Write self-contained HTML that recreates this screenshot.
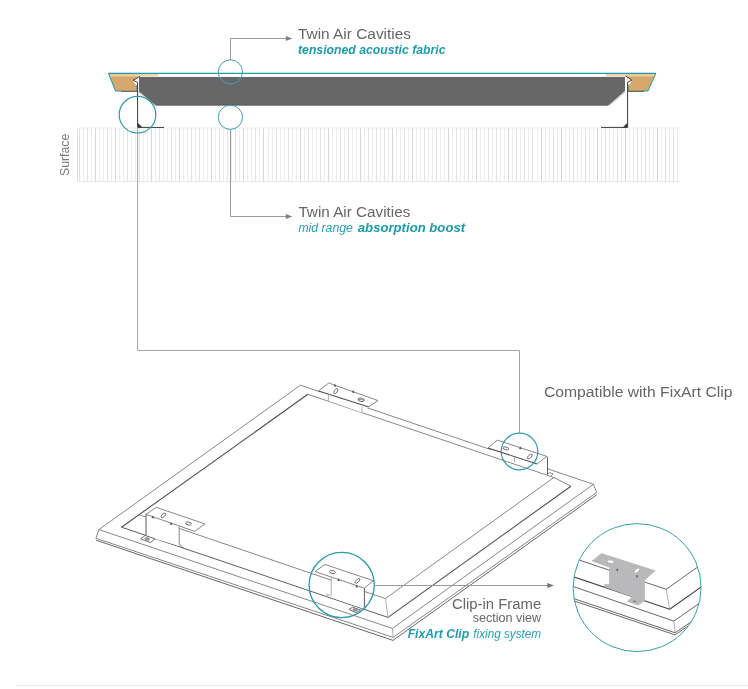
<!DOCTYPE html>
<html><head><meta charset="utf-8"><style>
html,body{margin:0;padding:0;background:#fff;overflow:hidden;width:748px;height:689px;}
svg{display:block;font-family:"Liberation Sans",sans-serif;will-change:transform;}
</style></head><body>
<svg width="748" height="689" viewBox="0 0 748 689">
<g><line x1="77.5" y1="128" x2="77.5" y2="181.5" stroke="#dedede" stroke-width="1"/><line x1="79.5" y1="128" x2="79.5" y2="181.5" stroke="#e2e2e2" stroke-width="1"/><line x1="83.5" y1="128" x2="83.5" y2="181.5" stroke="#eeeeee" stroke-width="1"/><line x1="87.5" y1="128" x2="87.5" y2="181.5" stroke="#e2e2e2" stroke-width="1"/><line x1="91.5" y1="128" x2="91.5" y2="181.5" stroke="#eeeeee" stroke-width="1"/><line x1="95.5" y1="128" x2="95.5" y2="181.5" stroke="#d5d5d5" stroke-width="1"/><line x1="99.5" y1="128" x2="99.5" y2="181.5" stroke="#eeeeee" stroke-width="1"/><line x1="103.5" y1="128" x2="103.5" y2="181.5" stroke="#eeeeee" stroke-width="1"/><line x1="107.5" y1="128" x2="107.5" y2="181.5" stroke="#e2e2e2" stroke-width="1"/><line x1="111.5" y1="128" x2="111.5" y2="181.5" stroke="#eeeeee" stroke-width="1"/><line x1="115.5" y1="128" x2="115.5" y2="181.5" stroke="#d5d5d5" stroke-width="1"/><line x1="119.5" y1="128" x2="119.5" y2="181.5" stroke="#eeeeee" stroke-width="1"/><line x1="123.5" y1="128" x2="123.5" y2="181.5" stroke="#eeeeee" stroke-width="1"/><line x1="127.5" y1="128" x2="127.5" y2="181.5" stroke="#e2e2e2" stroke-width="1"/><line x1="131.5" y1="128" x2="131.5" y2="181.5" stroke="#eeeeee" stroke-width="1"/><line x1="135.5" y1="128" x2="135.5" y2="181.5" stroke="#eeeeee" stroke-width="1"/><line x1="139.5" y1="128" x2="139.5" y2="181.5" stroke="#e2e2e2" stroke-width="1"/><line x1="143.5" y1="128" x2="143.5" y2="181.5" stroke="#eeeeee" stroke-width="1"/><line x1="147.5" y1="128" x2="147.5" y2="181.5" stroke="#eeeeee" stroke-width="1"/><line x1="151.5" y1="128" x2="151.5" y2="181.5" stroke="#d5d5d5" stroke-width="1"/><line x1="155.5" y1="128" x2="155.5" y2="181.5" stroke="#eeeeee" stroke-width="1"/><line x1="159.5" y1="128" x2="159.5" y2="181.5" stroke="#e2e2e2" stroke-width="1"/><line x1="163.5" y1="128" x2="163.5" y2="181.5" stroke="#eeeeee" stroke-width="1"/><line x1="167.5" y1="128" x2="167.5" y2="181.5" stroke="#eeeeee" stroke-width="1"/><line x1="171.5" y1="128" x2="171.5" y2="181.5" stroke="#e2e2e2" stroke-width="1"/><line x1="175.5" y1="128" x2="175.5" y2="181.5" stroke="#eeeeee" stroke-width="1"/><line x1="179.5" y1="128" x2="179.5" y2="181.5" stroke="#d5d5d5" stroke-width="1"/><line x1="183.5" y1="128" x2="183.5" y2="181.5" stroke="#eeeeee" stroke-width="1"/><line x1="187.5" y1="128" x2="187.5" y2="181.5" stroke="#eeeeee" stroke-width="1"/><line x1="191.5" y1="128" x2="191.5" y2="181.5" stroke="#e2e2e2" stroke-width="1"/><line x1="195.5" y1="128" x2="195.5" y2="181.5" stroke="#eeeeee" stroke-width="1"/><line x1="199.5" y1="128" x2="199.5" y2="181.5" stroke="#e2e2e2" stroke-width="1"/><line x1="203.5" y1="128" x2="203.5" y2="181.5" stroke="#eeeeee" stroke-width="1"/><line x1="207.5" y1="128" x2="207.5" y2="181.5" stroke="#eeeeee" stroke-width="1"/><line x1="211.5" y1="128" x2="211.5" y2="181.5" stroke="#d5d5d5" stroke-width="1"/><line x1="215.5" y1="128" x2="215.5" y2="181.5" stroke="#eeeeee" stroke-width="1"/><line x1="219.5" y1="128" x2="219.5" y2="181.5" stroke="#e2e2e2" stroke-width="1"/><line x1="223.5" y1="128" x2="223.5" y2="181.5" stroke="#eeeeee" stroke-width="1"/><line x1="227.5" y1="128" x2="227.5" y2="181.5" stroke="#e2e2e2" stroke-width="1"/><line x1="231.5" y1="128" x2="231.5" y2="181.5" stroke="#eeeeee" stroke-width="1"/><line x1="235.5" y1="128" x2="235.5" y2="181.5" stroke="#e2e2e2" stroke-width="1"/><line x1="239.5" y1="128" x2="239.5" y2="181.5" stroke="#eeeeee" stroke-width="1"/><line x1="243.5" y1="128" x2="243.5" y2="181.5" stroke="#d5d5d5" stroke-width="1"/><line x1="247.5" y1="128" x2="247.5" y2="181.5" stroke="#eeeeee" stroke-width="1"/><line x1="251.5" y1="128" x2="251.5" y2="181.5" stroke="#eeeeee" stroke-width="1"/><line x1="255.5" y1="128" x2="255.5" y2="181.5" stroke="#e2e2e2" stroke-width="1"/><line x1="259.5" y1="128" x2="259.5" y2="181.5" stroke="#eeeeee" stroke-width="1"/><line x1="263.5" y1="128" x2="263.5" y2="181.5" stroke="#d5d5d5" stroke-width="1"/><line x1="268.5" y1="128" x2="268.5" y2="181.5" stroke="#eeeeee" stroke-width="1"/><line x1="272.5" y1="128" x2="272.5" y2="181.5" stroke="#eeeeee" stroke-width="1"/><line x1="276.5" y1="128" x2="276.5" y2="181.5" stroke="#e2e2e2" stroke-width="1"/><line x1="280.5" y1="128" x2="280.5" y2="181.5" stroke="#eeeeee" stroke-width="1"/><line x1="284.5" y1="128" x2="284.5" y2="181.5" stroke="#eeeeee" stroke-width="1"/><line x1="288.5" y1="128" x2="288.5" y2="181.5" stroke="#e2e2e2" stroke-width="1"/><line x1="292.5" y1="128" x2="292.5" y2="181.5" stroke="#eeeeee" stroke-width="1"/><line x1="296.5" y1="128" x2="296.5" y2="181.5" stroke="#eeeeee" stroke-width="1"/><line x1="300.5" y1="128" x2="300.5" y2="181.5" stroke="#d5d5d5" stroke-width="1"/><line x1="304.5" y1="128" x2="304.5" y2="181.5" stroke="#eeeeee" stroke-width="1"/><line x1="308.5" y1="128" x2="308.5" y2="181.5" stroke="#e2e2e2" stroke-width="1"/><line x1="312.5" y1="128" x2="312.5" y2="181.5" stroke="#eeeeee" stroke-width="1"/><line x1="316.5" y1="128" x2="316.5" y2="181.5" stroke="#eeeeee" stroke-width="1"/><line x1="320.5" y1="128" x2="320.5" y2="181.5" stroke="#e2e2e2" stroke-width="1"/><line x1="324.5" y1="128" x2="324.5" y2="181.5" stroke="#eeeeee" stroke-width="1"/><line x1="328.5" y1="128" x2="328.5" y2="181.5" stroke="#d5d5d5" stroke-width="1"/><line x1="332.5" y1="128" x2="332.5" y2="181.5" stroke="#eeeeee" stroke-width="1"/><line x1="336.5" y1="128" x2="336.5" y2="181.5" stroke="#eeeeee" stroke-width="1"/><line x1="340.5" y1="128" x2="340.5" y2="181.5" stroke="#e2e2e2" stroke-width="1"/><line x1="344.5" y1="128" x2="344.5" y2="181.5" stroke="#eeeeee" stroke-width="1"/><line x1="348.5" y1="128" x2="348.5" y2="181.5" stroke="#e2e2e2" stroke-width="1"/><line x1="352.5" y1="128" x2="352.5" y2="181.5" stroke="#eeeeee" stroke-width="1"/><line x1="356.5" y1="128" x2="356.5" y2="181.5" stroke="#eeeeee" stroke-width="1"/><line x1="360.5" y1="128" x2="360.5" y2="181.5" stroke="#d5d5d5" stroke-width="1"/><line x1="364.5" y1="128" x2="364.5" y2="181.5" stroke="#eeeeee" stroke-width="1"/><line x1="368.5" y1="128" x2="368.5" y2="181.5" stroke="#e2e2e2" stroke-width="1"/><line x1="372.5" y1="128" x2="372.5" y2="181.5" stroke="#eeeeee" stroke-width="1"/><line x1="376.5" y1="128" x2="376.5" y2="181.5" stroke="#e2e2e2" stroke-width="1"/><line x1="380.5" y1="128" x2="380.5" y2="181.5" stroke="#eeeeee" stroke-width="1"/><line x1="384.5" y1="128" x2="384.5" y2="181.5" stroke="#e2e2e2" stroke-width="1"/><line x1="388.5" y1="128" x2="388.5" y2="181.5" stroke="#eeeeee" stroke-width="1"/><line x1="392.5" y1="128" x2="392.5" y2="181.5" stroke="#d5d5d5" stroke-width="1"/><line x1="396.5" y1="128" x2="396.5" y2="181.5" stroke="#eeeeee" stroke-width="1"/><line x1="400.5" y1="128" x2="400.5" y2="181.5" stroke="#eeeeee" stroke-width="1"/><line x1="404.5" y1="128" x2="404.5" y2="181.5" stroke="#e2e2e2" stroke-width="1"/><line x1="408.5" y1="128" x2="408.5" y2="181.5" stroke="#eeeeee" stroke-width="1"/><line x1="412.5" y1="128" x2="412.5" y2="181.5" stroke="#d5d5d5" stroke-width="1"/><line x1="416.5" y1="128" x2="416.5" y2="181.5" stroke="#eeeeee" stroke-width="1"/><line x1="420.5" y1="128" x2="420.5" y2="181.5" stroke="#eeeeee" stroke-width="1"/><line x1="424.5" y1="128" x2="424.5" y2="181.5" stroke="#e2e2e2" stroke-width="1"/><line x1="428.5" y1="128" x2="428.5" y2="181.5" stroke="#eeeeee" stroke-width="1"/><line x1="432.5" y1="128" x2="432.5" y2="181.5" stroke="#eeeeee" stroke-width="1"/><line x1="436.5" y1="128" x2="436.5" y2="181.5" stroke="#e2e2e2" stroke-width="1"/><line x1="440.5" y1="128" x2="440.5" y2="181.5" stroke="#eeeeee" stroke-width="1"/><line x1="444.5" y1="128" x2="444.5" y2="181.5" stroke="#eeeeee" stroke-width="1"/><line x1="448.5" y1="128" x2="448.5" y2="181.5" stroke="#d5d5d5" stroke-width="1"/><line x1="452.5" y1="128" x2="452.5" y2="181.5" stroke="#eeeeee" stroke-width="1"/><line x1="456.5" y1="128" x2="456.5" y2="181.5" stroke="#e2e2e2" stroke-width="1"/><line x1="460.5" y1="128" x2="460.5" y2="181.5" stroke="#eeeeee" stroke-width="1"/><line x1="464.5" y1="128" x2="464.5" y2="181.5" stroke="#eeeeee" stroke-width="1"/><line x1="468.5" y1="128" x2="468.5" y2="181.5" stroke="#e2e2e2" stroke-width="1"/><line x1="472.5" y1="128" x2="472.5" y2="181.5" stroke="#eeeeee" stroke-width="1"/><line x1="476.5" y1="128" x2="476.5" y2="181.5" stroke="#d5d5d5" stroke-width="1"/><line x1="480.5" y1="128" x2="480.5" y2="181.5" stroke="#eeeeee" stroke-width="1"/><line x1="484.5" y1="128" x2="484.5" y2="181.5" stroke="#eeeeee" stroke-width="1"/><line x1="488.5" y1="128" x2="488.5" y2="181.5" stroke="#e2e2e2" stroke-width="1"/><line x1="492.5" y1="128" x2="492.5" y2="181.5" stroke="#eeeeee" stroke-width="1"/><line x1="496.5" y1="128" x2="496.5" y2="181.5" stroke="#e2e2e2" stroke-width="1"/><line x1="500.5" y1="128" x2="500.5" y2="181.5" stroke="#eeeeee" stroke-width="1"/><line x1="504.5" y1="128" x2="504.5" y2="181.5" stroke="#eeeeee" stroke-width="1"/><line x1="508.5" y1="128" x2="508.5" y2="181.5" stroke="#d5d5d5" stroke-width="1"/><line x1="512.5" y1="128" x2="512.5" y2="181.5" stroke="#eeeeee" stroke-width="1"/><line x1="516.5" y1="128" x2="516.5" y2="181.5" stroke="#e2e2e2" stroke-width="1"/><line x1="520.5" y1="128" x2="520.5" y2="181.5" stroke="#eeeeee" stroke-width="1"/><line x1="524.5" y1="128" x2="524.5" y2="181.5" stroke="#e2e2e2" stroke-width="1"/><line x1="528.5" y1="128" x2="528.5" y2="181.5" stroke="#eeeeee" stroke-width="1"/><line x1="532.5" y1="128" x2="532.5" y2="181.5" stroke="#e2e2e2" stroke-width="1"/><line x1="537.5" y1="128" x2="537.5" y2="181.5" stroke="#eeeeee" stroke-width="1"/><line x1="541.5" y1="128" x2="541.5" y2="181.5" stroke="#d5d5d5" stroke-width="1"/><line x1="545.5" y1="128" x2="545.5" y2="181.5" stroke="#eeeeee" stroke-width="1"/><line x1="549.5" y1="128" x2="549.5" y2="181.5" stroke="#eeeeee" stroke-width="1"/><line x1="553.5" y1="128" x2="553.5" y2="181.5" stroke="#e2e2e2" stroke-width="1"/><line x1="557.5" y1="128" x2="557.5" y2="181.5" stroke="#eeeeee" stroke-width="1"/><line x1="561.5" y1="128" x2="561.5" y2="181.5" stroke="#d5d5d5" stroke-width="1"/><line x1="565.5" y1="128" x2="565.5" y2="181.5" stroke="#eeeeee" stroke-width="1"/><line x1="569.5" y1="128" x2="569.5" y2="181.5" stroke="#eeeeee" stroke-width="1"/><line x1="573.5" y1="128" x2="573.5" y2="181.5" stroke="#e2e2e2" stroke-width="1"/><line x1="577.5" y1="128" x2="577.5" y2="181.5" stroke="#eeeeee" stroke-width="1"/><line x1="581.5" y1="128" x2="581.5" y2="181.5" stroke="#eeeeee" stroke-width="1"/><line x1="585.5" y1="128" x2="585.5" y2="181.5" stroke="#e2e2e2" stroke-width="1"/><line x1="589.5" y1="128" x2="589.5" y2="181.5" stroke="#eeeeee" stroke-width="1"/><line x1="593.5" y1="128" x2="593.5" y2="181.5" stroke="#eeeeee" stroke-width="1"/><line x1="597.5" y1="128" x2="597.5" y2="181.5" stroke="#d5d5d5" stroke-width="1"/><line x1="601.5" y1="128" x2="601.5" y2="181.5" stroke="#eeeeee" stroke-width="1"/><line x1="605.5" y1="128" x2="605.5" y2="181.5" stroke="#e2e2e2" stroke-width="1"/><line x1="609.5" y1="128" x2="609.5" y2="181.5" stroke="#eeeeee" stroke-width="1"/><line x1="613.5" y1="128" x2="613.5" y2="181.5" stroke="#eeeeee" stroke-width="1"/><line x1="617.5" y1="128" x2="617.5" y2="181.5" stroke="#e2e2e2" stroke-width="1"/><line x1="621.5" y1="128" x2="621.5" y2="181.5" stroke="#eeeeee" stroke-width="1"/><line x1="625.5" y1="128" x2="625.5" y2="181.5" stroke="#d5d5d5" stroke-width="1"/><line x1="629.5" y1="128" x2="629.5" y2="181.5" stroke="#eeeeee" stroke-width="1"/><line x1="633.5" y1="128" x2="633.5" y2="181.5" stroke="#eeeeee" stroke-width="1"/><line x1="637.5" y1="128" x2="637.5" y2="181.5" stroke="#e2e2e2" stroke-width="1"/><line x1="641.5" y1="128" x2="641.5" y2="181.5" stroke="#eeeeee" stroke-width="1"/><line x1="645.5" y1="128" x2="645.5" y2="181.5" stroke="#e2e2e2" stroke-width="1"/><line x1="649.5" y1="128" x2="649.5" y2="181.5" stroke="#eeeeee" stroke-width="1"/><line x1="653.5" y1="128" x2="653.5" y2="181.5" stroke="#eeeeee" stroke-width="1"/><line x1="657.5" y1="128" x2="657.5" y2="181.5" stroke="#d5d5d5" stroke-width="1"/><line x1="661.5" y1="128" x2="661.5" y2="181.5" stroke="#eeeeee" stroke-width="1"/><line x1="665.5" y1="128" x2="665.5" y2="181.5" stroke="#e2e2e2" stroke-width="1"/><line x1="669.5" y1="128" x2="669.5" y2="181.5" stroke="#eeeeee" stroke-width="1"/><line x1="673.5" y1="128" x2="673.5" y2="181.5" stroke="#e2e2e2" stroke-width="1"/><line x1="677.5" y1="128" x2="677.5" y2="181.5" stroke="#eeeeee" stroke-width="1"/></g>
<line x1="77" y1="128" x2="680" y2="128" stroke="#f0f0f0" stroke-width="1"/>
<line x1="77" y1="181.5" x2="680" y2="181.5" stroke="#e8e8e8" stroke-width="1"/>
<polygon points="108.5,74 137.5,74 137.5,91 115.5,91" fill="#d5a86c"/>
<polygon points="655.5,74 627,74 627,91 648,91" fill="#d5a86c"/>
<rect x="109" y="74.2" width="49" height="2.3" fill="#efcfa3"/>
<rect x="606" y="74.2" width="49" height="2.3" fill="#efcfa3"/>
<polyline points="108.5,73.5 115.5,91 121,91" fill="none" stroke="#1f9aab" stroke-width="1"/>
<polyline points="655.8,73.5 648,91 643,91" fill="none" stroke="#1f9aab" stroke-width="1"/>
<line x1="121" y1="91.3" x2="138" y2="91.3" stroke="#2f4f55" stroke-width="1"/>
<line x1="628" y1="91.3" x2="644" y2="91.3" stroke="#2f4f55" stroke-width="1"/>
<polygon points="139,77 625,77 625,91 608.3,105.4 155.8,105.4 139,91.4" fill="#676767"/><line x1="156" y1="104.9" x2="608" y2="104.9" stroke="#5c5c5c" stroke-width="1"/>
<line x1="138.5" y1="92" x2="155" y2="105.5" stroke="#9a9a9a" stroke-width="0.6"/>
<line x1="625.5" y1="92" x2="609" y2="105.5" stroke="#9a9a9a" stroke-width="0.6"/>
<line x1="108.5" y1="73.3" x2="656" y2="73.3" stroke="#1f9aab" stroke-width="1.2"/>
<polygon points="139.6,76.4 133.3,80.3 133.8,82.5 135.5,84.8 137.4,84.8 137.4,77" fill="#fff"/><rect x="137.6" y="77" width="1.4" height="14.5" fill="#fff"/>
<line x1="136.6" y1="85.5" x2="136.6" y2="90.8" stroke="#3a9aa0" stroke-width="0.8"/>
<polyline points="139.8,76.3 133.2,80.3 137.6,82.4 137.6,127.4 164,127.4" fill="none" stroke="#3a3a3a" stroke-width="1"/>
<polygon points="137.6,122.5 137.6,127.4 142.5,127.4" fill="#3a3a3a"/>
<polygon points="625.5,75.8 631.6,80 631,82.5 629.5,84.6 627.6,84.6 627.6,76.5" fill="#fff"/><rect x="625" y="77" width="2.2" height="14" fill="#fff"/>
<line x1="628.4" y1="85.5" x2="628.4" y2="90.8" stroke="#3a9aa0" stroke-width="0.8"/>
<polyline points="625.5,75.8 631.8,80.1 627.6,82.4 627.6,127.4 601,127.4" fill="none" stroke="#3a3a3a" stroke-width="1"/>
<polygon points="627.6,122.5 627.6,127.4 622.7,127.4" fill="#3a3a3a"/>
<polyline points="137.6,127.4 137.6,350.5 519.5,350.5 519.5,433.3" fill="none" stroke="#a4a4a4" stroke-width="1"/>
<polyline points="230.5,59.8 230.5,38.5 287,38.5" fill="none" stroke="#999" stroke-width="1"/>
<polygon points="285.8,35.9 292.3,38.5 285.8,41.1" fill="#808080"/>
<polyline points="230.5,129.4 230.5,216.5 287,216.5" fill="none" stroke="#999" stroke-width="1"/>
<polygon points="285.8,213.9 292.3,216.5 285.8,219.1" fill="#808080"/>
<circle cx="137.5" cy="114.7" r="18.3" fill="none" stroke="#3199a8" stroke-width="1.2"/>
<circle cx="230.4" cy="71.9" r="12.1" fill="none" stroke="#3aa0ae" stroke-width="1"/>
<circle cx="230.4" cy="117.3" r="12.1" fill="none" stroke="#3aa0ae" stroke-width="1"/>
<text x="298" y="38.5" font-size="15.3" fill="#666666" font-weight="normal" font-style="normal" text-anchor="start" textLength="113" lengthAdjust="spacingAndGlyphs">Twin Air Cavities</text>
<text x="298" y="53.5" font-size="12.6" fill="#1f9aab" font-weight="bold" font-style="italic" text-anchor="start" textLength="147.5" lengthAdjust="spacingAndGlyphs">tensioned acoustic fabric</text>
<text x="298.4" y="217.0" font-size="15.3" fill="#666666" font-weight="normal" font-style="normal" text-anchor="start" textLength="112" lengthAdjust="spacingAndGlyphs">Twin Air Cavities</text>
<text x="298.4" y="232" font-size="12.5" fill="#2aa0b0" font-weight="normal" font-style="italic" text-anchor="start" textLength="54.5" lengthAdjust="spacingAndGlyphs">mid range</text>
<text x="357.8" y="232" font-size="12.6" fill="#1f9aab" font-weight="bold" font-style="italic" text-anchor="start" textLength="107.3" lengthAdjust="spacingAndGlyphs">absorption boost</text>
<text x="543.9" y="397.4" font-size="15.3" fill="#666666" font-weight="normal" font-style="normal" text-anchor="start" textLength="188.7" lengthAdjust="spacingAndGlyphs">Compatible with FixArt Clip</text>
<text x="452" y="608.9" font-size="14.7" fill="#666666" font-weight="normal" font-style="normal" text-anchor="start" textLength="89.2" lengthAdjust="spacingAndGlyphs">Clip-in Frame</text>
<text x="472.7" y="622.1" font-size="13" fill="#666666" font-weight="normal" font-style="normal" text-anchor="start" textLength="68.5" lengthAdjust="spacingAndGlyphs">section view</text>
<text x="407.7" y="637.9" font-size="13" fill="#1f9aab" font-weight="bold" font-style="italic" text-anchor="start" textLength="61.5" lengthAdjust="spacingAndGlyphs">FixArt Clip</text>
<text x="473.3" y="637.9" font-size="13" fill="#2aa0b0" font-weight="normal" font-style="italic" text-anchor="start" textLength="67.8" lengthAdjust="spacingAndGlyphs">fixing system</text>
<text x="0" y="0" font-size="13.5" fill="#7a7a7a" transform="translate(69,176) rotate(-90)" textLength="42.3" lengthAdjust="spacingAndGlyphs">Surface</text>
<line x1="16" y1="685.5" x2="748" y2="685.5" stroke="#e9e9e9" stroke-width="1"/>
<polyline points="98.9,529.6 300.4,385.2 593.4,484.3" stroke="#686868" stroke-width="0.8" fill="none" stroke-linejoin="round"/>
<polyline points="98.9,529.6 392.4,628.4 593.4,484.3" stroke="#686868" stroke-width="0.8" fill="none" stroke-linejoin="round"/>
<polyline points="98.9,529.6 95.9,538.3" stroke="#686868" stroke-width="0.8" fill="none" stroke-linejoin="round"/>
<polyline points="593.4,484.3 596.7,492.3" stroke="#686868" stroke-width="0.8" fill="none" stroke-linejoin="round"/>
<line x1="392.4" y1="628.4" x2="393.2" y2="637.4" stroke="#9a9a9a" stroke-width="0.8" fill="none"/>
<polyline points="95.9,538.3 393.2,637.4 596.7,492.3" stroke="#686868" stroke-width="0.8" fill="none" stroke-linejoin="round"/>
<polyline points="96.1,540.2 393,640.4 596.9,494.6" stroke="#555" stroke-width="0.9" fill="none" stroke-linejoin="round"/>
<line x1="121.5" y1="527.2" x2="307.9" y2="394.3" stroke="#505050" stroke-width="1.1" fill="none" stroke-linejoin="round"/>
<line x1="307.9" y1="394.3" x2="553.9" y2="477.5" stroke="#686868" stroke-width="0.8" fill="none" stroke-linejoin="round"/>
<line x1="138.9" y1="514.7" x2="385.4" y2="598.6" stroke="#686868" stroke-width="0.8" fill="none" stroke-linejoin="round"/>
<line x1="385.4" y1="598.6" x2="553.9" y2="477.5" stroke="#686868" stroke-width="0.8" fill="none" stroke-linejoin="round"/>
<line x1="121.5" y1="527.2" x2="388" y2="617.4" stroke="#555" stroke-width="0.95" fill="none" stroke-linejoin="round"/>
<line x1="388" y1="617.4" x2="570.9" y2="486.2" stroke="#505050" stroke-width="1.1" fill="none" stroke-linejoin="round"/>
<line x1="385.4" y1="598.6" x2="388" y2="617.4" stroke="#9a9a9a" stroke-width="0.8" fill="none"/>
<line x1="553.9" y1="477.5" x2="570.9" y2="486.2" stroke="#686868" stroke-width="0.8" fill="none" stroke-linejoin="round"/><polygon points="318.6,391 368.8,406.9 361.9,412.4 328.4,400.7" fill="#fff" stroke="none"/>
<polygon points="328.7,383 377.9,400.5 368.8,406.9 318.6,391" fill="#fff" stroke="none"/>
<polyline points="318.6,391 328.7,383 377.9,400.5 368.8,406.9" stroke="#686868" stroke-width="0.8" fill="none" stroke-linejoin="round"/>
<line x1="318.6" y1="391" x2="368.8" y2="406.9" stroke="#505050" stroke-width="1.1" fill="none" stroke-linejoin="round"/>
<line x1="328.4" y1="394.6" x2="328.4" y2="400.7" stroke="#9a9a9a" stroke-width="0.8" fill="none"/>
<line x1="361.9" y1="406.5" x2="361.9" y2="412.4" stroke="#9a9a9a" stroke-width="0.8" fill="none"/>
<ellipse cx="335.8" cy="391.2" rx="2.9" ry="1.5" transform="rotate(-58 335.8 391.2)" fill="#fff" stroke="#555" stroke-width="0.8"/>
<ellipse cx="361.2" cy="399.8" rx="3.2" ry="1.7" transform="rotate(12 361.2 399.8)" fill="#fff" stroke="#555" stroke-width="0.8"/>
<line x1="358.4" y1="399.3" x2="364" y2="400.1" stroke="#555" stroke-width="0.7"/>
<polygon points="334.90000000000003,383.7 336.3,386.7 333.8,386.3" fill="#4a4a4a"/>
<polygon points="353.1,389.9 354.5,392.9 352.0,392.5" fill="#4a4a4a"/>
<polygon points="488,448 537.2,463.9 547.3,466 547.3,474.3 514.4,462.2" fill="#fff" stroke="none"/>
<polygon points="497.1,440.1 546.8,456.4 537.2,463.9 488,448" fill="#fff" stroke="none"/>
<polyline points="488,448 497.1,440.1 546.8,456.4 537.2,463.9" stroke="#686868" stroke-width="0.8" fill="none" stroke-linejoin="round"/>
<line x1="488" y1="448" x2="537.2" y2="463.9" stroke="#505050" stroke-width="1.1" fill="none" stroke-linejoin="round"/>
<polyline points="546.9,456.4 547.5,457.5 547.5,474.5" stroke="#555" stroke-width="0.95" fill="none" stroke-linejoin="round"/>
<line x1="514.4" y1="456.9" x2="514.4" y2="462.2" stroke="#9a9a9a" stroke-width="0.8" fill="none"/>
<polyline points="547.5,474.3 549.5,472.6 553,474 551,476" stroke="#686868" stroke-width="0.8" fill="none" stroke-linejoin="round"/>
<ellipse cx="505.8" cy="448.4" rx="3.0" ry="1.4" transform="rotate(12 505.8 448.4)" fill="#fff" stroke="#555" stroke-width="0.8"/>
<ellipse cx="529.8" cy="456.5" rx="3.0" ry="1.4" transform="rotate(-42 529.8 456.5)" fill="#fff" stroke="#555" stroke-width="0.8"/>
<polygon points="520.1999999999999,446.3 521.6,449.3 519.1,448.90000000000003" fill="#4a4a4a"/>
<polygon points="146,514.3 179.2,526 179.2,546 146,536" fill="#fff" stroke="none"/>
<polygon points="156.2,507.3 204.9,523.9 194.7,531.4 146,514.3" fill="#fff" stroke="none"/>
<polyline points="146,514.3 156.2,507.3 204.9,523.9 194.7,531.4 146,514.3" stroke="#686868" stroke-width="0.8" fill="none" stroke-linejoin="round"/>
<line x1="146" y1="514.3" x2="146" y2="535.3" stroke="#555" stroke-width="0.95" fill="none" stroke-linejoin="round"/>
<polyline points="179.2,526.2 179.2,544.7 181,545.5 184,548.3" stroke="#686868" stroke-width="0.8" fill="none" stroke-linejoin="round"/>
<polygon points="140.7,538.9 145.3,535.4 155.1,538.9 150.3,542.6" fill="#fff" stroke="#555" stroke-width="0.85" stroke-linejoin="round"/>
<ellipse cx="147.2" cy="538.9" rx="2.3" ry="1.2" transform="rotate(10 147.2 538.9)" fill="#b0b0b0" stroke="#555" stroke-width="0.55"/>
<ellipse cx="163.4" cy="515.4" rx="3.0" ry="1.4" transform="rotate(-42 163.4 515.4)" fill="#fff" stroke="#555" stroke-width="0.8"/>
<ellipse cx="188.5" cy="523.5" rx="3.0" ry="1.5" transform="rotate(12 188.5 523.5)" fill="#fff" stroke="#555" stroke-width="0.8"/>
<polygon points="152.8,515.5 154.2,518.5 151.7,518.1" fill="#4a4a4a"/>
<polygon points="171.0,521.9 172.39999999999998,524.9 169.89999999999998,524.5" fill="#4a4a4a"/>
<polygon points="331.2,577 364.4,588.2 364.4,609 331.2,597.5" fill="#fff" stroke="none"/>
<polygon points="324.8,564.4 373.4,580.7 364.4,588.2 315.2,571.6" fill="#fff" stroke="none"/>
<polyline points="315.2,571.6 324.8,564.4 373.4,580.7 364.4,588.2 315.2,571.6" stroke="#686868" stroke-width="0.8" fill="none" stroke-linejoin="round"/>
<polyline points="331.2,577.3 331.2,595.1 327,595.1 327,593.6" stroke="#9a9a9a" stroke-width="0.8" fill="none"/>
<line x1="364.4" y1="588.2" x2="364.4" y2="608.5" stroke="#555" stroke-width="0.95" fill="none" stroke-linejoin="round"/>
<polygon points="348.9,609.5 352.6,607.2 360.6,610.1 356.3,612.6" fill="#fff" stroke="#555" stroke-width="0.85" stroke-linejoin="round"/>
<ellipse cx="355.2" cy="609.9" rx="2.3" ry="1.2" transform="rotate(10 355.2 609.9)" fill="#b0b0b0" stroke="#555" stroke-width="0.55"/>
<ellipse cx="332.4" cy="572.0" rx="3.0" ry="1.5" transform="rotate(12 332.4 572.0)" fill="#fff" stroke="#555" stroke-width="0.8"/>
<ellipse cx="357.5" cy="580.8" rx="3.0" ry="1.4" transform="rotate(-42 357.5 580.8)" fill="#fff" stroke="#555" stroke-width="0.8"/>
<polygon points="338.5,578.1 339.9,581.1 337.4,580.7" fill="#4a4a4a"/>
<polygon points="356.7,584.6 358.09999999999997,587.6 355.59999999999997,587.2" fill="#4a4a4a"/>
<circle cx="519.5" cy="451.5" r="18.3" fill="none" stroke="#2e99a9" stroke-width="1.2"/>
<circle cx="341.7" cy="585" r="32.6" fill="none" stroke="#2b97a7" stroke-width="1.3"/>
<line x1="374.3" y1="585.5" x2="548" y2="585.5" stroke="#999" stroke-width="1"/>
<polygon points="547.3,582.9 553.8,585.5 547.3,588.1" fill="#707070"/>
<defs><clipPath id="sc"><circle cx="637.1" cy="587.6" r="64"/></clipPath></defs>
<circle cx="637.1" cy="587.6" r="64" fill="#fff"/>
<g clip-path="url(#sc)">
<polyline points="560,553.6 666.2,589.3 710,558.3" stroke="#555" stroke-width="0.9" fill="none" stroke-linejoin="round"/>
<polyline points="560,572.3 669.7,609.3 712,579.3" stroke="#444" stroke-width="1.1" fill="none" stroke-linejoin="round"/>
<line x1="666.2" y1="589.3" x2="669.7" y2="609.3" stroke="#999" stroke-width="0.8" fill="none"/>
<polyline points="560,582.0 673.8,621.1 712,594.5" stroke="#555" stroke-width="0.9" fill="none" stroke-linejoin="round"/>
<line x1="673.8" y1="621.1" x2="675.2" y2="632.8" stroke="#999" stroke-width="0.8" fill="none"/>
<polyline points="560,594.0 675.2,632.8 712,607.5" stroke="#555" stroke-width="0.9" fill="none" stroke-linejoin="round"/>
<polyline points="560,596.2 675.2,634.9 712,609.6" stroke="#555" stroke-width="0.9" fill="none" stroke-linejoin="round"/>
<polygon points="601.4,553.4 655.1,570.7 645.4,579.2 644.5,579.6 644.5,600.6 638.1,605.1 627.4,601.4 632.1,597.1 605,587 604.7,584.4 609.4,584.5 609.4,567.3 592.1,560.9" fill="#b9b9bb" stroke="#a9a9ab" stroke-width="0.5" stroke-linejoin="round"/>
<ellipse cx="610.7" cy="561.6" rx="3" ry="1.1" transform="rotate(8 610.7 561.6)" fill="#fff"/>
<ellipse cx="636.9" cy="570.6" rx="3" ry="1.1" transform="rotate(-40 636.9 570.6)" fill="#fff"/>
<polygon points="616,568.5 618.5,569.3 617.2,572" fill="#666"/>
<polygon points="635.8,575 638.3,575.8 637,578.5" fill="#666"/>
<ellipse cx="634.6" cy="601.3" rx="2" ry="0.9" fill="#888"/>
</g>
<circle cx="637.1" cy="587.6" r="64" fill="none" stroke="#3a9dac" stroke-width="1"/>
</svg>
</body></html>
